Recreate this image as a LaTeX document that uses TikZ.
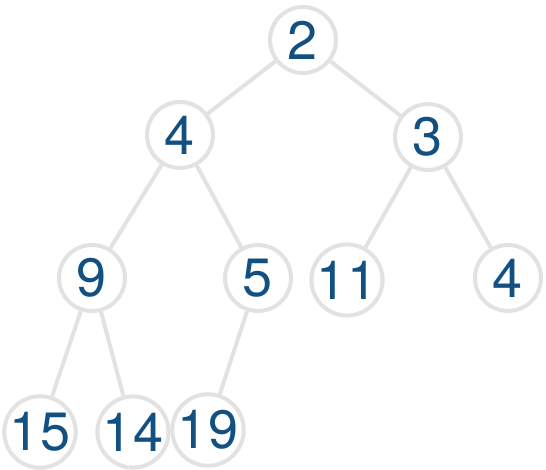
\documentclass[tikz,border=0pt]{standalone}
\usepackage{fontspec}
\setmainfont{TeX Gyre Heros}
\definecolor{keyblue}{RGB}{18,80,130}
\definecolor{ringgray}{RGB}{226,226,226}
\begin{document}
\begin{tikzpicture}[x=1pt,y=1pt,
  heapnode/.style={circle, draw=ringgray, line width=4pt, fill=white, minimum size=66pt, inner sep=0pt, text=keyblue, font=\fontsize{54}{60}\selectfont},
  heapedge/.style={draw=ringgray, line width=4pt}]
\useasboundingbox (0,0) rectangle (546,470);
\node[heapnode] (r) at (303,430) {2};
\node[heapnode] (a) at (180,335) {4};
\node[heapnode] (b) at (428,333) {3};
\node[heapnode] (aa) at (92,192) {9};
\node[heapnode] (ab) at (258,192) {5};
\node[heapnode] (ba) at (347,190) {11};
\node[heapnode] (bb) at (508,192) {4};
\node[heapnode] (aaa) at (40,38) {15};
\node[heapnode] (aab) at (133,38) {14};
\node[heapnode] (aba) at (208,40) {19};
\draw[heapedge] (r) -- (a);
\draw[heapedge] (r) -- (b);
\draw[heapedge] (a) -- (aa);
\draw[heapedge] (a) -- (ab);
\draw[heapedge] (b) -- (ba);
\draw[heapedge] (b) -- (bb);
\draw[heapedge] (aa) -- (aaa);
\draw[heapedge] (aa) -- (aab);
\draw[heapedge] (ab) -- (aba);
\end{tikzpicture}
\end{document}
